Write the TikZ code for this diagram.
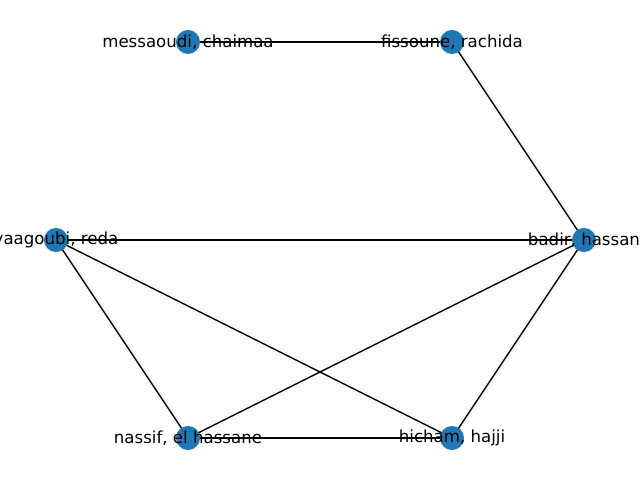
\documentclass[tikz,border=0pt]{standalone}
\usepackage{fontspec}
\setmainfont{DejaVu Sans}
\definecolor{nxblue}{HTML}{1F77B4}

\begin{document}
\begin{tikzpicture}[x=0.01in,y=-0.01in,
  vert/.style={circle,fill=nxblue,minimum size=0.24in,inner sep=0pt},
  personlabel/.style={inner sep=0pt,font=\fontsize{12}{14}\selectfont},
  link/.style={line width=1pt}]
\useasboundingbox (0,0) rectangle (640,480);
\clip (0,0) rectangle (640,480);
\coordinate (badir) at (584,240);
\coordinate (fissoune) at (452,42);
\coordinate (messaoudi) at (188,42);
\coordinate (yaagoubi) at (56,240);
\coordinate (nassif) at (188,438);
\coordinate (hicham) at (452,438);
% edges first, people on top
\draw[link] (messaoudi)--(fissoune);
\draw[link] (fissoune)--(badir);
\draw[link] (yaagoubi)--(badir);
\draw[link] (yaagoubi)--(nassif);
\draw[link] (yaagoubi)--(hicham);
\draw[link] (badir)--(nassif);
\draw[link] (badir)--(hicham);
\draw[link] (nassif)--(hicham);
\foreach \p in {badir,fissoune,messaoudi,yaagoubi,nassif,hicham}
  \node[vert] (\p-dot) at (\p) {};
\node[personlabel] (badir-name) at (badir) {badir, hassan};
\node[personlabel] (fissoune-name) at (fissoune) {fissoune, rachida};
\node[personlabel] (messaoudi-name) at (messaoudi) {messaoudi, chaimaa};
\node[personlabel] (yaagoubi-name) at (yaagoubi) {yaagoubi, reda};
\node[personlabel] (nassif-name) at (nassif) {nassif, el hassane};
\node[personlabel] (hicham-name) at (hicham) {hicham, hajji};
\end{tikzpicture}
\end{document}
